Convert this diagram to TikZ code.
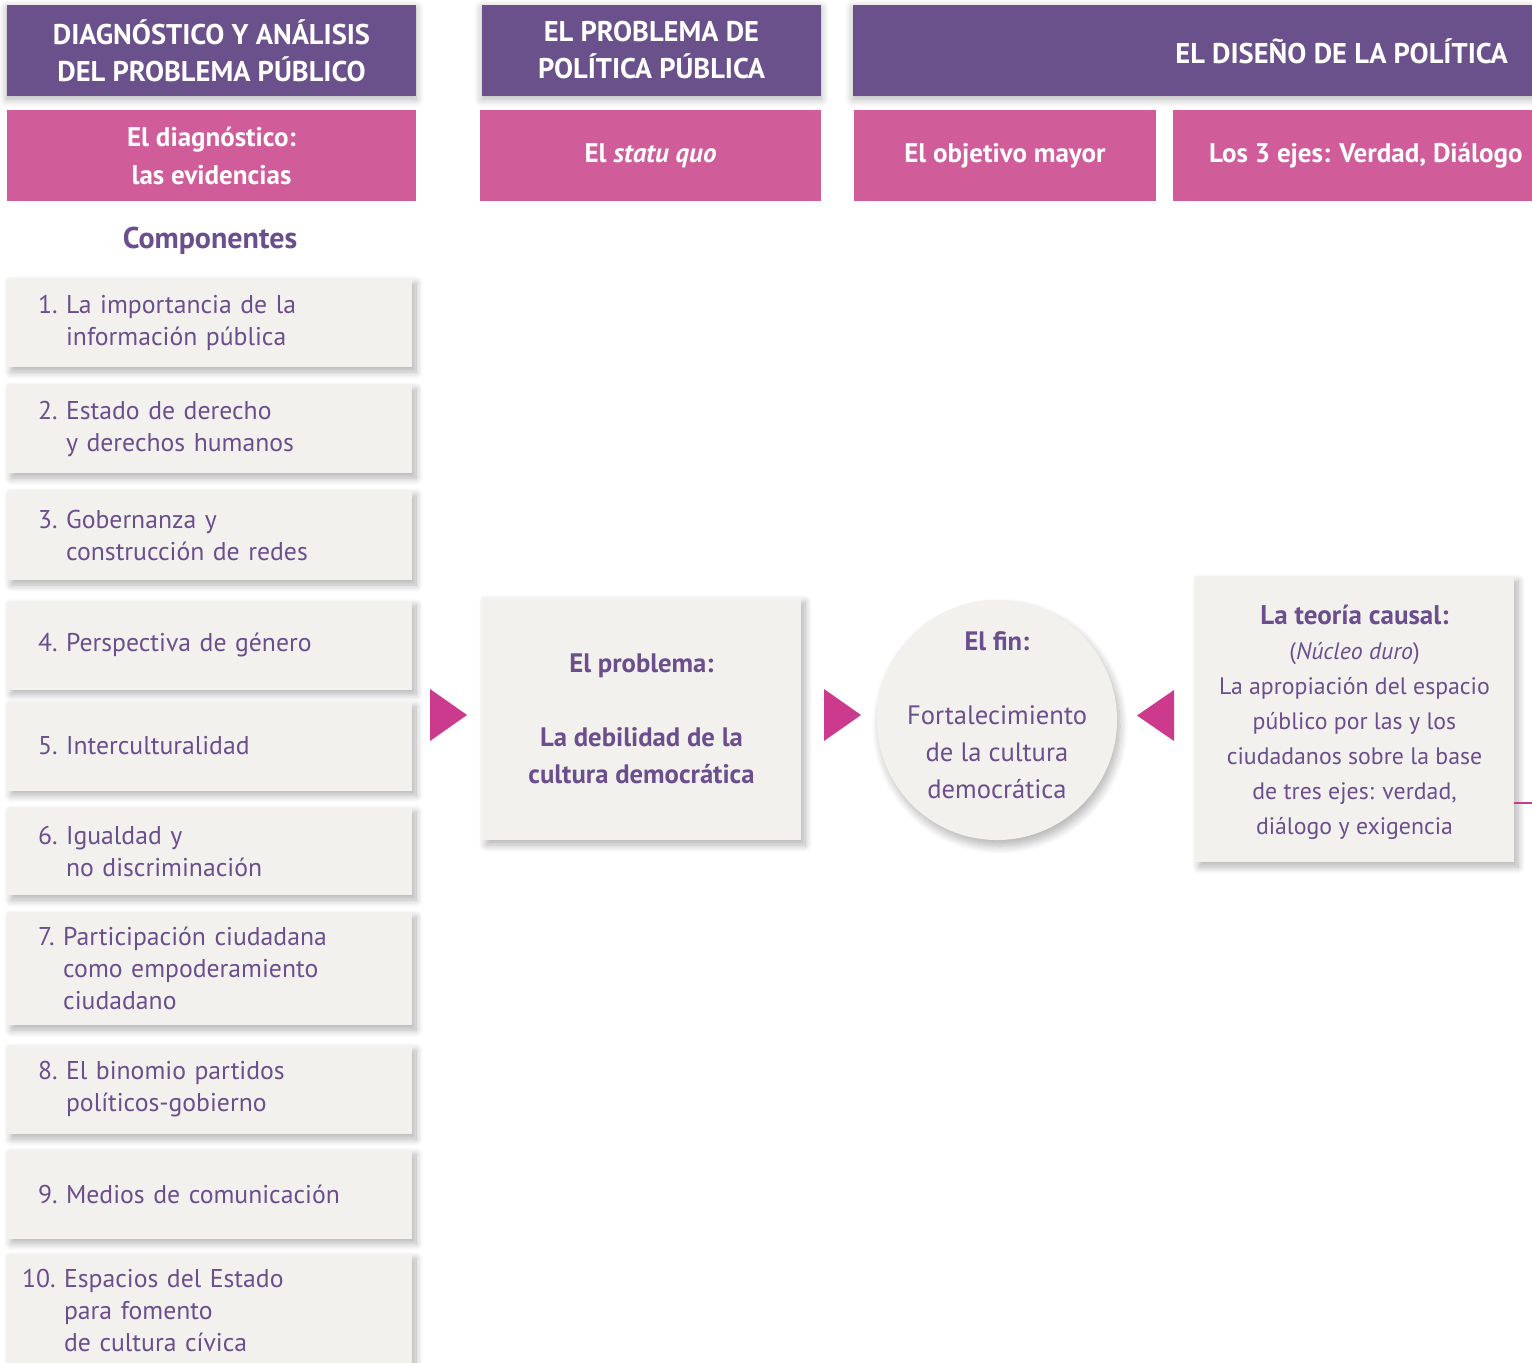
\documentclass[tikz,border=0pt]{standalone}
\usepackage{fontspec}
\setmainfont{PT Sans}
\usetikzlibrary{shadows.blur}
\definecolor{hdrpurple}{HTML}{6B518C}
\definecolor{hdrpink}{HTML}{D05C9A}
\definecolor{tripink}{HTML}{CC3A8E}
\definecolor{paper}{HTML}{F3F1EE}
\definecolor{txtpurple}{HTML}{6A4E8E}
\begin{document}
\begin{tikzpicture}[x=1pt,y=-1pt,
  softshadow/.style={blur shadow={shadow xshift=4pt, shadow yshift=-5pt, shadow blur radius=7pt, shadow blur steps=12, shadow opacity=30}},
  hdr/.style={rectangle, fill=hdrpurple, text=white, font=\bfseries\fontsize{28.5}{37}\selectfont, align=center, inner sep=0pt,
    blur shadow={shadow xshift=0pt, shadow yshift=-3pt, shadow blur radius=8pt, shadow blur steps=12, shadow opacity=30}},
  hdrtext/.style={text=white, font=\bfseries\fontsize{28.5}{37}\selectfont, inner sep=0pt},
  sub/.style={rectangle, fill=hdrpink, text=white, font=\bfseries\fontsize{27}{38}\selectfont, align=center, inner sep=0pt},
  subtext/.style={text=white, font=\bfseries\fontsize{27}{38}\selectfont, inner sep=0pt},
  item/.style={rectangle, fill=paper, text=txtpurple, font=\fontsize{25.7}{32}\selectfont, align=left,
    text width=343pt, inner xsep=31pt, inner ysep=0pt, minimum height=89pt, softshadow},
  card/.style={rectangle, fill=paper, text=txtpurple, align=center, inner sep=0pt, softshadow},
  tri/.style={fill=tripink},
  link/.style={draw=tripink, line width=1.2pt}
]
\useasboundingbox (0,0) rectangle (1532,1363);

% headers
\node[hdr, minimum width=409pt, minimum height=91pt] (h1) at (211.5,50.5) {DIAGNÓSTICO Y ANÁLISIS\\DEL PROBLEMA PÚBLICO};
\node[hdr, minimum width=339pt, minimum height=91pt] (h2) at (651.5,50.5) {EL PROBLEMA DE\\POLÍTICA PÚBLICA};
\node[hdr, minimum width=690pt, minimum height=91pt] (h3) at (1198,50.5) {};
\node[hdrtext, anchor=east] (h3t) at (1508,51) {EL DISEÑO DE LA POLÍTICA};

% sub headers
\node[sub, minimum width=409pt, minimum height=91pt] (s1) at (211.5,155.5) {El diagnóstico:\\las evidencias};
\node[sub, minimum width=341pt, minimum height=91pt] (s2) at (650.5,155.5) {El \textit{statu quo}};
\node[sub, minimum width=302pt, minimum height=91pt] (s3) at (1005,155.5) {El objetivo mayor};
\node[sub, minimum width=370pt, minimum height=91pt] (s4) at (1358,155.5) {};
\node[subtext, anchor=west] (s4t) at (1209,156) {Los 3 ejes: Verdad, Diálogo};

\node[text=txtpurple, font=\bfseries\fontsize{30}{32}\selectfont] (comp) at (210,241) {Componentes};

% component list
\node[item] (c1) at (209.5,322.5) {1.~La importancia de la\\\phantom{1.~}información pública};
\node[item] (c2) at (209.5,428.5) {2.~Estado de derecho\\\phantom{2.~}y derechos humanos};
\node[item, minimum height=90pt] (c3) at (209.5,535) {3.~Gobernanza y\\\phantom{3.~}construcción de redes};
\node[item] (c4) at (209.5,645) {4.~Perspectiva de género};
\node[item] (c5) at (209.5,746) {5.~Interculturalidad};
\node[item, minimum height=88pt] (c6) at (209.5,851) {6.~Igualdad y\\\phantom{6.~}no discriminación};
\node[item, minimum height=113pt] (c7) at (209.5,968.5) {7.~Participación ciudadana\\\phantom{7.~}como empoderamiento\\\phantom{7.~}ciudadano};
\node[item] (c8) at (209.5,1089.5) {8.~El binomio partidos\\\phantom{8.~}políticos-gobierno};
\node[item] (c9) at (209.5,1194) {9.~Medios de comunicación};
\node[item, minimum height=113pt, inner xsep=15pt, text width=375pt] (c10) at (209.5,1310) {10.~Espacios del Estado\\\phantom{10.~}para fomento\\\phantom{10.~}de cultura cívica};

% problem box
\node[card, minimum width=319pt, minimum height=243pt, font=\bfseries\fontsize{26.7}{37}\selectfont] (prob) at (641.5,718.5)
  {El problema:\\\mbox{}\\La debilidad de la\\cultura democrática};

% circle
\node[circle, fill=paper, minimum size=240pt, inner sep=0pt,
  blur shadow={shadow xshift=3pt, shadow yshift=-6pt, shadow blur radius=8pt, shadow blur steps=12, shadow opacity=30}] (fin) at (997,720) {};
\node[text=txtpurple, align=center, font=\fontsize{26.6}{37}\selectfont, inner sep=0pt] (fintxt) at ([yshift=5pt]fin.center)
  {{\bfseries El fin:}\\\mbox{}\\Fortalecimiento\\de la cultura\\democrática};

% causal theory box
\node[card, minimum width=319pt, minimum height=286pt] (teoria) at (1354.5,719) {};
\node[text=txtpurple, align=center, inner sep=0pt, font=\fontsize{23.8}{35}\selectfont] (teoriatxt) at ([yshift=-3pt]teoria.center)
  {{\bfseries\fontsize{27}{35}\selectfont La teoría causal:}\\(\textit{Núcleo duro})\\La apropiación del espacio\\público por las y los\\ciudadanos sobre la base\\de tres ejes: verdad,\\diálogo y exigencia};

% triangles
\fill[tri] (430,689) -- (467,715) -- (430,741) -- cycle;
\fill[tri] (824,689) -- (861,715) -- (824,741) -- cycle;
\fill[tri] (1174,690) -- (1137,715.5) -- (1174,741) -- cycle;

% partial connector leaving the right edge
\coordinate (offedge) at (1540,803);
\draw[link] (teoria.east |- offedge) -- (offedge);
\end{tikzpicture}
\end{document}
